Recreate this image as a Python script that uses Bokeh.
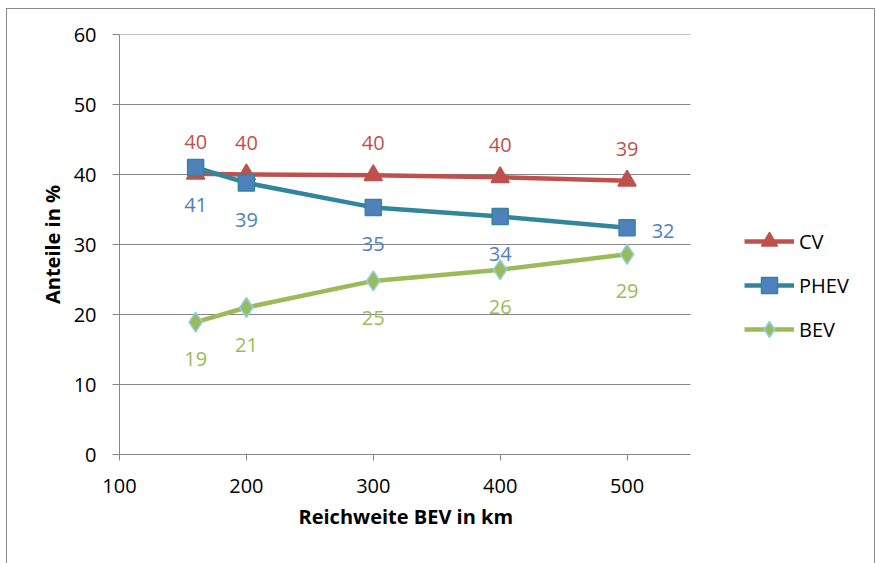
from bokeh.plotting import figure
from bokeh.models import Range1d, FixedTicker, Legend, LegendItem, ColumnDataSource, Title
from bokeh.core.properties import value
from bokeh.embed import file_html
from bokeh.resources import INLINE

# ---- data ----
reichweite = [160, 200, 300, 400, 500]
cv = [40.1, 40.0, 39.9, 39.6, 39.1]
phev = [41.0, 38.8, 35.3, 34.0, 32.4]
bev = [18.9, 21.0, 24.8, 26.4, 28.6]
cv_labels = ["40", "40", "40", "40", "39"]
phev_labels = ["41", "39", "35", "34", "32"]
bev_labels = ["19", "21", "25", "26", "29"]
x_ticks = [100, 200, 300, 400, 500]
y_ticks = [0, 10, 20, 30, 40, 50, 60]
x_min, x_max = 100, 550
y_min, y_max = 0, 60

FONT = "Open Sans"
GRID = "#878787"

# frame is widened to the right so the legend can sit inside it; axis/grid stop at x_max
p = figure(width=869, height=555, output_backend="svg", toolbar_location=None,
           x_range=Range1d(x_min, 695), y_range=Range1d(y_min, y_max),
           min_border_left=112, min_border_right=2, min_border_top=25, min_border_bottom=110)
p.styles = {"margin-left": "6px", "margin-top": "8px",
            "border-left": "1px solid #8a8a8a", "border-top": "1px solid #8a8a8a",
            "border-right": "1px solid #8a8a8a", "box-sizing": "border-box"}
p.outline_line_color = None
p.background_fill_color = "white"

p.xgrid.visible = False
p.ygrid.visible = False
gy = y_ticks[1:]
p.segment(x0=[x_min] * len(gy), y0=gy, x1=[x_max] * len(gy), y1=gy,
          line_color=GRID, line_width=1, level="underlay")

for ax in (p.xaxis[0], p.yaxis[0]):
    ax.axis_line_color = GRID
    ax.major_tick_line_color = GRID
    ax.minor_tick_line_color = None
    ax.major_tick_in = 0
    ax.major_label_text_font = FONT
    ax.major_label_text_font_size = "20px"
    ax.major_label_text_color = "black"
    ax.axis_label_text_font = FONT
    ax.axis_label_text_font_style = "bold"
    ax.axis_label_text_font_size = "20px"
    ax.axis_label_text_color = "black"

p.xaxis.bounds = (x_min, x_max)
p.xaxis.ticker = FixedTicker(ticks=x_ticks)
p.yaxis.ticker = FixedTicker(ticks=y_ticks)
p.xaxis.major_tick_out = 6
p.yaxis.major_tick_out = 7
p.xaxis.major_label_standoff = 18
p.yaxis.major_label_standoff = 16
p.yaxis.axis_label = "Anteile in %"
p.yaxis.axis_label_standoff = 5

# x-axis title placed under the plotted x span (not the widened frame)
xt = Title(text="Reichweite BEV in km", align="left", offset=179,
           text_font=FONT, text_font_style="bold", text_font_size="20px",
           text_color="black", standoff=10)
p.add_layout(xt, "below")

series = [
    ("CV", cv, cv_labels, "#C0504D", "triangle", "#C0504D", "#C0504D", 18, "#C0504D"),
    ("PHEV", phev, phev_labels, "#31859C", "square", "#4F81BD", "#31859C", 16, "#4F81BD"),
    ("BEV", bev, bev_labels, "#9BBB59", "diamond", "#9BBB59", "#8ED0E8", 20, "#9BBB59"),
]

items = []
for name, ys, labs, lc, mk, mfill, mline, msize, tc in series:
    r1 = p.line(reichweite, ys, line_color=lc, line_width=4.5)
    r2 = p.scatter(reichweite, ys, marker=mk, size=msize, fill_color=mfill,
                   line_color=mline, line_width=1.5)
    items.append(LegendItem(label=name, renderers=[r1, r2]))
    if name == "CV":
        xo = [0] * len(ys)
        yo = [-32] * len(ys)
    else:
        xo = [0] * len(ys)
        yo = [37] * len(ys)
        if name == "PHEV":
            xo[-1] = 36
            yo[-1] = 3
    src = ColumnDataSource(dict(x=reichweite, y=ys, t=labs, xo=xo, yo=yo))
    p.text(x="x", y="y", text="t", source=src, x_offset="xo", y_offset="yo",
           text_align="center", text_baseline="middle", text_color=tc,
           text_font=value(FONT), text_font_size="20px")

legend = Legend(items=items, location=(625, 105), orientation="vertical",
                glyph_width=50, glyph_height=40, label_height=40, spacing=4,
                padding=0, margin=0, border_line_color=None, background_fill_alpha=0,
                label_text_font=FONT, label_text_font_size="20px", label_standoff=5,
                label_text_color="black")
p.add_layout(legend, "center")

open("out.html", "w").write(file_html(p, INLINE))
